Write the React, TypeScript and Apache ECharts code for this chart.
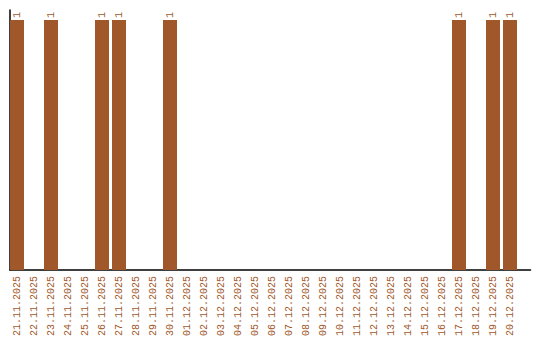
import React, { useEffect, useRef } from "react";
import * as echarts from "echarts";

const categories: string[] = [
  "21.11.2025", "22.11.2025", "23.11.2025", "24.11.2025", "25.11.2025",
  "26.11.2025", "27.11.2025", "28.11.2025", "29.11.2025", "30.11.2025",
  "01.12.2025", "02.12.2025", "03.12.2025", "04.12.2025", "05.12.2025",
  "06.12.2025", "07.12.2025", "08.12.2025", "09.12.2025", "10.12.2025",
  "11.12.2025", "12.12.2025", "13.12.2025", "14.12.2025", "15.12.2025",
  "16.12.2025", "17.12.2025", "18.12.2025", "19.12.2025", "20.12.2025",
];

const values: number[] = [
  1, 0, 1, 0, 0,
  1, 1, 0, 0, 1,
  0, 0, 0, 0, 0,
  0, 0, 0, 0, 0,
  0, 0, 0, 0, 0,
  0, 1, 0, 1, 1,
];

const COLOR = "#a0572a";
const FONT = "Liberation Mono";

export default function App() {
  const ref = useRef<HTMLDivElement>(null);
  useEffect(() => {
    if (!ref.current) return;
    const chart = echarts.init(ref.current, undefined, { renderer: "svg" });
    chart.setOption({
      animation: false,
      grid: [
        { left: 8.5, right: 21.5, top: 10, bottom: 70 },
        { left: 10, right: 9.5, top: 10, bottom: 70 },
      ],
      xAxis: [
        {
          type: "category",
          gridIndex: 0,
          data: categories,
          axisLine: { show: false },
          axisTick: { show: false },
          axisLabel: {
            interval: 0,
            rotate: 90,
            color: COLOR,
            fontFamily: FONT,
            fontSize: 10,
            margin: 6,
          },
        },
        {
          type: "value",
          gridIndex: 1,
          min: 0,
          max: 1,
          axisLine: { show: true, lineStyle: { color: "#000", width: 1.5 } },
          axisTick: { show: false },
          axisLabel: { show: false },
          splitLine: { show: false },
        },
      ],
      yAxis: [
        {
          type: "value",
          gridIndex: 0,
          min: 0,
          max: 1.04,
          axisLine: { show: false },
          axisTick: { show: false },
          axisLabel: { show: false },
          splitLine: { show: false },
        },
        {
          type: "value",
          gridIndex: 1,
          min: 0,
          max: 1,
          axisLine: { show: true, lineStyle: { color: "#000", width: 1.5 } },
          axisTick: { show: false },
          axisLabel: { show: false },
          splitLine: { show: false },
        },
      ],
      series: [
        {
          type: "bar",
          xAxisIndex: 0,
          yAxisIndex: 0,
          z: 3,
          data: values.map((v) => (v ? v : null)),
          barWidth: 14,
          itemStyle: { color: COLOR },
          label: {
            show: true,
            position: "top",
            rotate: 90,
            align: "left",
            verticalAlign: "middle",
            distance: 2,
            color: COLOR,
            fontFamily: FONT,
            fontSize: 10,
          },
        },
      ],
    });
    return () => chart.dispose();
  }, []);
  return (
    <div
      ref={ref}
      style={{ position: "fixed", left: 0, top: 0, width: 540, height: 340, background: "#fff" }}
    />
  );
}
